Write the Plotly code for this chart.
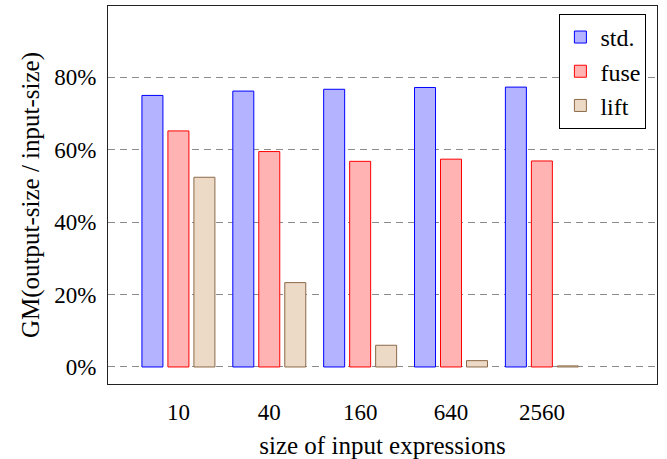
import plotly.graph_objects as go

categories = ["10", "40", "160", "640", "2560"]
std_vals = [75.0, 76.2, 76.7, 77.2, 77.3]
fuse_vals = [65.2, 59.5, 56.8, 57.4, 56.9]
lift_vals = [52.4, 23.3, 6.0, 1.75, 0.3]
y_ticks = [0, 20, 40, 60, 80]
y_tick_labels = ["0%", "20%", "40%", "60%", "80%"]

FONT = "Liberation Serif"
pos = list(range(len(categories)))

fig = go.Figure()
series = [
    ("std.", std_vals, "#b3b3ff", "#0000ff"),
    ("fuse", fuse_vals, "#ffb3b3", "#ff0000"),
    ("lift", lift_vals, "#ecd9c6", "#8c6a48"),
]
for name, vals, fill, line in series:
    fig.add_trace(go.Bar(
        x=pos, y=vals, name=name,
        marker=dict(color=fill, line=dict(color=line, width=1)),
    ))

W, H = 667, 459
L, R, T, B = 107.5, 9.7, 6, 74.5

fig.update_layout(
    width=W, height=H,
    margin=dict(l=L, r=R, t=T, b=B, autoexpand=False),
    paper_bgcolor="white", plot_bgcolor="white",
    barmode="group", bargap=0.142, bargroupgap=0.192,
    font=dict(family=FONT, size=23, color="black"),
    showlegend=True,
    legend=dict(
        x=0.9807, y=0.979, xanchor="right", yanchor="top",
        bordercolor="black", borderwidth=1, bgcolor="white",
        font=dict(family=FONT, size=24, color="black"),
        tracegroupgap=0,
    ),
)
fig.update_xaxes(
    range=[-0.775, 5.267],
    tickvals=pos, ticktext=categories,
    tickfont=dict(family=FONT, size=23, color="black"),
    showgrid=False, zeroline=False,
    showline=True, mirror=True, linecolor="#222222", linewidth=1,
    ticks="", ticklabelstandoff=7,
    title=dict(text="size of input expressions",
               font=dict(family=FONT, size=25, color="black"), standoff=15),
    automargin=False,
)
fig.update_yaxes(
    range=[-4.7, 99.7],
    tickvals=y_ticks, ticktext=y_tick_labels,
    tickfont=dict(family=FONT, size=23, color="black"),
    showgrid=True, gridcolor="#8c8c8c", gridwidth=1, griddash="7px,5px",
    zeroline=False,
    showline=True, mirror=True, linecolor="#222222", linewidth=1,
    ticks="", ticklabelstandoff=6,
    title=dict(text="GM(output-size / input-size)",
               font=dict(family=FONT, size=25, color="black"), standoff=7),
    automargin=False,
)

fig.write_html("out.html")
